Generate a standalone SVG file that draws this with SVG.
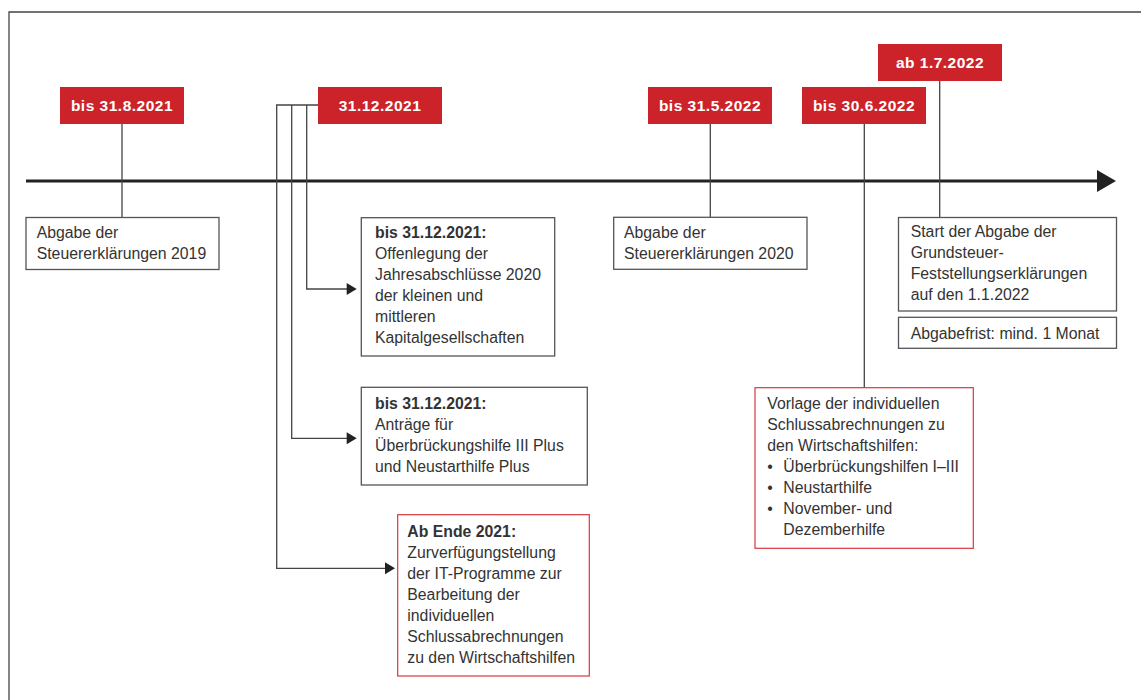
<svg xmlns="http://www.w3.org/2000/svg" width="1141" height="700" viewBox="0 0 1141 700">
<defs>
<style>
.frame{fill:none;stroke:#444;stroke-width:1.3}
.lbl{fill:#cc232b}
.lt{font-family:"Liberation Sans",Arial,sans-serif;font-size:15.5px;font-weight:bold;fill:#fff;text-anchor:middle;letter-spacing:0.5px}
.box{fill:#fff;stroke:#555;stroke-width:1.3}
.rbox{fill:#fff;stroke:#d9363e;stroke-width:1.2}
.t{font-family:"Liberation Sans",Arial,sans-serif;font-size:15.8px;fill:#333}
.b{font-weight:bold}
.con{fill:none;stroke:#444;stroke-width:1.3}
</style>
<marker id="ah" viewBox="0 0 10 10" refX="10" refY="5" markerWidth="10" markerHeight="10" markerUnits="userSpaceOnUse" orient="auto">
<path d="M0,0 L10,5 L0,10 z" fill="#222"/>
</marker>
</defs>
<rect width="1141" height="700" fill="#fff"/>
<path class="frame" d="M9,700 V12 H1141"/>

<g id="connectors">
<line x1="26" y1="181" x2="1098" y2="181" stroke="#222" stroke-width="3"/>
<path d="M1097,170 L1116,181 L1097,192 z" fill="#222"/>
<line class="con" x1="122" y1="124" x2="122" y2="218"/>
<line class="con" x1="710.3" y1="124" x2="710.3" y2="217"/>
<line class="con" x1="864.3" y1="124" x2="864.3" y2="388"/>
<line class="con" x1="939.7" y1="81" x2="939.7" y2="217"/>
<path class="con" d="M318,105 H276.7 V568.3 H386"/>
<path class="con" d="M291.7,105 V438.3 H352"/>
<path class="con" d="M306.7,105 V289 H352"/>
<path d="M346.7,283 L356.7,289 L346.7,295 z" fill="#222"/>
<path d="M346.7,432.3 L356.7,438.3 L346.7,444.3 z" fill="#222"/>
<path d="M385,562.3 L395,568.3 L385,574.3 z" fill="#222"/>
</g>

<g id="label-1"><rect class="lbl" x="60" y="87" width="124" height="37"/><text class="lt" x="122" y="110.5">bis 31.8.2021</text></g>
<g id="label-2"><rect class="lbl" x="318" y="87" width="124" height="37"/><text class="lt" x="380" y="110.5">31.12.2021</text></g>
<g id="label-3"><rect class="lbl" x="648" y="87" width="124" height="37"/><text class="lt" x="710" y="110.5">bis 31.5.2022</text></g>
<g id="label-4"><rect class="lbl" x="802" y="87" width="124" height="37"/><text class="lt" x="864" y="110.5">bis 30.6.2022</text></g>
<g id="label-5"><rect class="lbl" x="878" y="44" width="124" height="37"/><text class="lt" x="940" y="67.5">ab 1.7.2022</text></g>

<g id="box-1"><rect class="box" x="26" y="217.5" width="193" height="52"/>
<text class="t" x="36.7" y="237.7">Abgabe der</text>
<text class="t" x="36.7" y="258.5">Steuererklärungen 2019</text></g>

<g id="box-2"><rect class="box" x="361.3" y="217.7" width="193.4" height="138.3"/>
<text class="t b" x="375" y="237.7">bis 31.12.2021:</text>
<text class="t" x="375" y="258.8">Offenlegung der</text>
<text class="t" x="375" y="279.9">Jahresabschlüsse 2020</text>
<text class="t" x="375" y="301">der kleinen und</text>
<text class="t" x="375" y="322.1">mittleren</text>
<text class="t" x="375" y="343.2">Kapitalgesellschaften</text></g>

<g id="box-3"><rect class="box" x="361.3" y="387.3" width="226" height="97.7"/>
<text class="t b" x="375" y="409">bis 31.12.2021:</text>
<text class="t" x="375" y="430">Anträge für</text>
<text class="t" x="375" y="451">Überbrückungshilfe III Plus</text>
<text class="t" x="375" y="472">und Neustarthilfe Plus</text></g>

<g id="box-4"><rect class="rbox" x="397.7" y="514.7" width="191.6" height="161.3"/>
<text class="t b" x="407.3" y="536.7">Ab Ende 2021:</text>
<text class="t" x="407.3" y="557.7">Zurverfügungstellung</text>
<text class="t" x="407.3" y="578.7">der IT-Programme zur</text>
<text class="t" x="407.3" y="599.7">Bearbeitung der</text>
<text class="t" x="407.3" y="620.7">individuellen</text>
<text class="t" x="407.3" y="641.7">Schlussabrechnungen</text>
<text class="t" x="407.3" y="662.7">zu den Wirtschaftshilfen</text></g>

<g id="box-5"><rect class="box" x="613.7" y="217.3" width="193.3" height="52"/>
<text class="t" x="624" y="237.7">Abgabe der</text>
<text class="t" x="624" y="258.5">Steuererklärungen 2020</text></g>

<g id="box-6"><rect class="rbox" x="755" y="387.7" width="218.3" height="160.6"/>
<text class="t" x="767.3" y="409">Vorlage der individuellen</text>
<text class="t" x="767.3" y="430">Schlussabrechnungen zu</text>
<text class="t" x="767.3" y="451">den Wirtschaftshilfen:</text>
<text class="t" x="767.3" y="472">•</text><text class="t" x="783.3" y="472">Überbrückungshilfen I–III</text>
<text class="t" x="767.3" y="493">•</text><text class="t" x="783.3" y="493">Neustarthilfe</text>
<text class="t" x="767.3" y="514">•</text><text class="t" x="783.3" y="514">November- und</text>
<text class="t" x="783.3" y="535">Dezemberhilfe</text></g>

<g id="box-7"><rect class="box" x="898.5" y="217.5" width="218" height="93.5"/>
<text class="t" x="910.7" y="237.3">Start der Abgabe der</text>
<text class="t" x="910.7" y="258.3">Grundsteuer-</text>
<text class="t" x="910.7" y="279.3">Feststellungserklärungen</text>
<text class="t" x="910.7" y="300.3">auf den 1.1.2022</text></g>

<g id="box-8"><rect class="box" x="898.5" y="317.3" width="218" height="31"/>
<text class="t" x="910.7" y="339">Abgabefrist: mind. 1 Monat</text></g>
</svg>
